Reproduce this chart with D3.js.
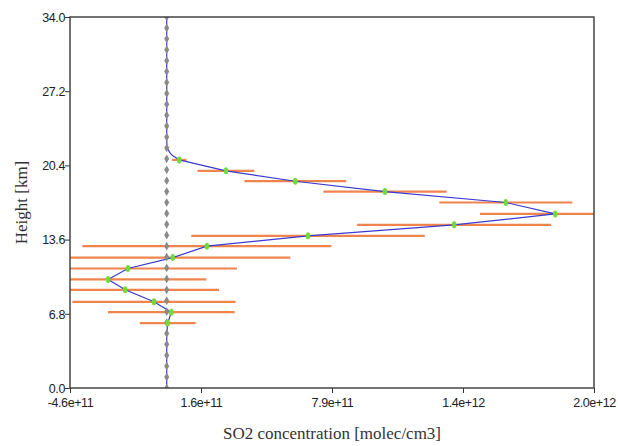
<!DOCTYPE html>
<html>
<head>
<meta charset="utf-8">
<script src="https://cdn.jsdelivr.net/npm/d3@7"></script>
<style>
  body { margin: 0; background: #fff; }
  .tick text { font-family: "Liberation Sans Narrow", "Liberation Sans", Arial, sans-serif; font-size: 12.5px; fill: #222; letter-spacing: -0.4px; }
</style>
</head>
<body>
<svg class="chart"></svg>
<script>
// retrieved layers (km) and SO2 values with half-width errors
let heights = [20.9, 19.9, 18.95, 18.0, 17.0, 15.95, 14.95, 13.95, 13.0, 11.95, 10.95, 9.95, 9.0, 7.9, 6.95, 5.95];
let so2 = [6.0e10, 2.84e11, 6.17e11, 1.047e12, 1.627e12, 1.864e12, 1.379e12, 6.78e11, 1.93e11, 2.9e10, -1.86e11, -2.81e11, -1.99e11, -6.1e10, 2.2e10, 5e9];
let so2err = [3.5e10, 1.36e11, 2.44e11, 2.955e11, 3.19e11, 3.61e11, 4.655e11, 5.6e11, 5.97e11, 5.64e11, 5.23e11, 4.71e11, 4.5e11, 3.915e11, 3.04e11, 1.34e11];

// full profile line (top and bottom parts outside retrieved layers)
let lineTopH = [34, 30, 26, 23, 22.2, 21.9, 21.6, 21.3];
let lineTopV = [0, 0, 0, 0, 1e9, 5e9, 1.4e10, 2.8e10];
let lineBotH = [5, 3, 0];
let lineBotV = [0, 0, 0];

// a priori grid (grey)
let aprioriH = [0,1,2,3,4,5,6,7,8,9,10,11,12,13,14,15,16,17,18,19,20,21,22,23,24,25,26,27,28,29,30,31,32,33,34];
let aprioriV = [0,0,0,0,0,0,0,0,0,0,0,0,0,0,0,0,0,0,0,0,0,0,0,0,0,0,0,0,0,0,0,0,0,0,0];

let xDomain = [-4.64e11, 2.05e12];
let yDomain = [0, 34];
let xTickLabels = ['-4.6e+11', '1.6e+11', '7.9e+11', '1.4e+12', '2.0e+12'];
let yTickLabels = ['0.0', '6.8', '13.6', '20.4', '27.2', '34.0'];

let svg_width = 618, svg_height = 446;
let margin_left = 70, margin_top = 17;
let chart_width = 524, chart_height = 371;

let svg = d3.select('.chart')
  .attr('width', svg_width)
  .attr('height', svg_height);

let scaleX = d3.scaleLinear().domain(xDomain).range([0, chart_width]);
let scaleY = d3.scaleLinear().domain(yDomain).range([chart_height, 0]);

let xTicks = xTickLabels.map((d, i) => xDomain[0] + i * (xDomain[1] - xDomain[0]) / (xTickLabels.length - 1));
let yTicks = yTickLabels.map(d => +d);

let g = svg.append('g').attr('transform', translate(margin_left, margin_top));

svg.append('defs').append('clipPath').attr('id', 'clip')
  .append('rect').attr('width', chart_width).attr('height', chart_height);

let plot = g.append('g').attr('clip-path', 'url(#clip)');

// error bars
plot.selectAll('.err')
  .data(heights)
  .enter()
  .append('line')
  .attr('class', 'err')
  .attr('x1', (d, i) => scaleX(so2[i] - so2err[i]))
  .attr('x2', (d, i) => scaleX(so2[i] + so2err[i]))
  .attr('y1', d => scaleY(d))
  .attr('y2', d => scaleY(d))
  .attr('stroke', '#f0844e')
  .attr('stroke-width', 2.2);

// profile line
let profile = [];
lineTopH.forEach((h, i) => profile.push([lineTopV[i], h]));
heights.forEach((h, i) => profile.push([so2[i], h]));
lineBotH.forEach((h, i) => profile.push([lineBotV[i], h]));

plot.append('path')
  .datum(profile)
  .attr('fill', 'none')
  .attr('stroke', '#3a3ad0')
  .attr('stroke-width', 1.2)
  .attr('d', d3.line().x(d => scaleX(d[0])).y(d => scaleY(d[1])));

// a priori diamonds
let diamond = d3.symbol().type(d3.symbolDiamond).size(22);
plot.selectAll('.ap')
  .data(aprioriH)
  .enter()
  .append('path')
  .attr('class', 'ap')
  .attr('d', diamond)
  .attr('transform', (d, i) => translate(scaleX(aprioriV[i]), scaleY(d)))
  .attr('fill', '#8a8a8a');

// retrieved markers
plot.selectAll('.pt')
  .data(heights)
  .enter()
  .append('ellipse')
  .attr('class', 'pt')
  .attr('cx', (d, i) => scaleX(so2[i]))
  .attr('cy', d => scaleY(d))
  .attr('rx', 2.3)
  .attr('ry', 3.5)
  .attr('fill', '#6fdc3a');

// axes
let axisX = d3.axisBottom(scaleX).tickValues(xTicks).tickFormat((d, i) => xTickLabels[i]).tickSize(5).tickSizeOuter(0);
let axisY = d3.axisLeft(scaleY).tickValues(yTicks).tickFormat((d, i) => yTickLabels[i]).tickSize(5).tickSizeOuter(0);

g.append('g')
  .attr('transform', translate(0, chart_height))
  .call(axisX)
  .call(a => a.select('.domain').remove())
  .call(a => a.selectAll('.tick line').attr('stroke', '#333'))
  .call(a => a.selectAll('.tick text').attr('dy', '0.9em'));

g.append('g')
  .call(axisY)
  .call(a => a.select('.domain').remove())
  .call(a => a.selectAll('.tick line').attr('stroke', '#333'))
  .call(a => a.selectAll('.tick text').attr('x', -5).attr('dy', '0.35em'));

g.append('rect')
  .attr('width', chart_width)
  .attr('height', chart_height)
  .attr('fill', 'none')
  .attr('stroke', '#444')
  .attr('stroke-width', 1.5);

// titles
svg.append('text')
  .attr('x', margin_left + chart_width / 2)
  .attr('y', 439)
  .attr('text-anchor', 'middle')
  .attr('font-family', '"Liberation Serif", "DejaVu Serif", serif')
  .attr('font-size', 17)
  .attr('fill', '#333')
  .text('SO2 concentration [molec/cm3]');

svg.append('text')
  .attr('transform', 'translate(27,' + (margin_top + chart_height / 2) + ') rotate(-90)')
  .attr('text-anchor', 'middle')
  .attr('font-family', '"Liberation Serif", "DejaVu Serif", serif')
  .attr('font-size', 17)
  .attr('fill', '#333')
  .text('Height [km]');

function translate(x, y) {
  return 'translate(' + x + ',' + y + ')';
}
</script>
</body>
</html>
